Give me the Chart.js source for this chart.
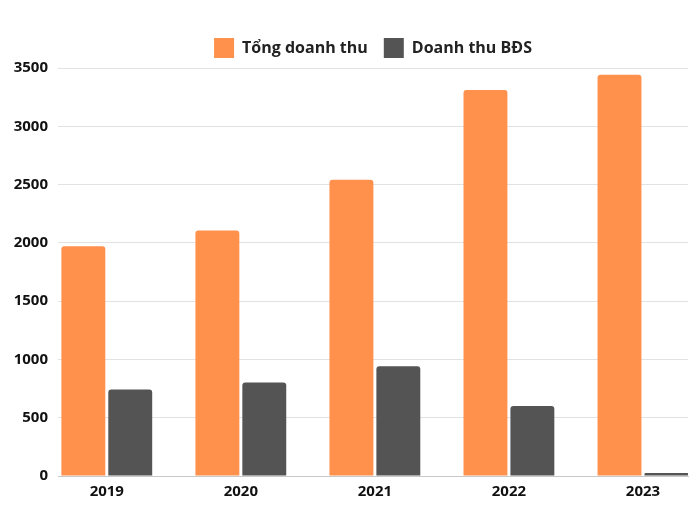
<!DOCTYPE html>
<html>
<head>
<meta charset="utf-8">
<script src="https://cdn.jsdelivr.net/npm/chart.js@4"></script>
<style>
  html, body { margin: 0; padding: 0; background: #fff; }
  #wrap { width: 700px; height: 525px; }
</style>
</head>
<body>
<div id="wrap"><canvas id="myChart" width="700" height="525"></canvas></div>
<script>
const years = ['2019', '2020', '2021', '2022', '2023'];
const tongDoanhThu = [1970, 2107, 2541, 3312, 3443];
const doanhThuBDS = [742, 802, 942, 600, 26];
const yTicks = [0, 500, 1000, 1500, 2000, 2500, 3000, 3500];

const toPoints = arr => arr.map((v, i) => ({ x: i, y: v }));

const ctx = document.getElementById('myChart').getContext('2d');

const myChart = new Chart(ctx, {
    type: 'bar',
    data: {
        datasets: [
            {
                label: 'Tổng doanh thu',
                data: toPoints(tongDoanhThu),
                backgroundColor: '#FF914D',
                borderRadius: 3,
                borderSkipped: 'bottom'
            },
            {
                label: 'Doanh thu BĐS',
                data: toPoints(doanhThuBDS),
                backgroundColor: '#545454',
                borderRadius: 3,
                borderSkipped: 'bottom'
            }
        ]
    },
    options: {
        responsive: false,
        animation: false,
        devicePixelRatio: 1,
        categoryPercentage: 0.70,
        barPercentage: 0.936,
        layout: {
            padding: { left: 0, right: 12, top: 22, bottom: 9 }
        },
        plugins: {
            legend: {
                display: true,
                position: 'top',
                fullSize: false,
                labels: {
                    boxWidth: 20,
                    boxHeight: 20,
                    padding: 16,
                    color: '#222',
                    font: { family: 'Open Sans', size: 16, weight: 'bold' }
                }
            },
            tooltip: { enabled: false }
        },
        scales: {
            x: {
                type: 'linear',
                offset: false,
                min: -0.364,
                max: 4.336,
                grid: { display: false, drawTicks: false, offset: false },
                border: { display: true, color: '#c8c8c8', width: 1 },
                ticks: {
                    stepSize: 1,
                    includeBounds: false,
                    padding: 7,
                    color: '#111',
                    font: { family: 'Open Sans', size: 15, weight: 'bold' },
                    callback: v => Number.isInteger(v) ? years[v] : ''
                },
                afterFit: scale => { scale.height = 40; }
            },
            y: {
                min: 0,
                max: 3500,
                afterBuildTicks: scale => { scale.ticks = yTicks.map(v => ({ value: v })); },
                grid: { color: '#e2e2e2', drawTicks: false },
                border: { display: false },
                ticks: {
                    padding: 10,
                    color: '#111',
                    font: { family: 'Open Sans', size: 15, weight: 'bold' },
                    callback: v => String(v)
                },
                afterFit: scale => { scale.width = 58; }
            }
        }
    }
});
</script>
</body>
</html>
